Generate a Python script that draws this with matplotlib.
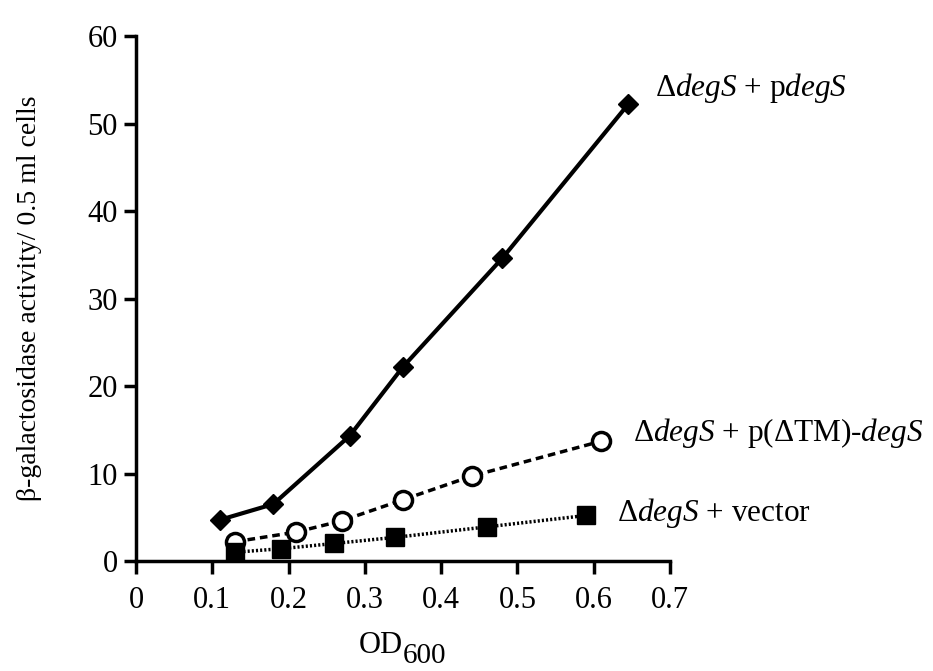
import matplotlib
matplotlib.use('Agg')
import matplotlib.pyplot as plt

plt.rcParams['font.family'] = ['Liberation Serif', 'DejaVu Serif']
plt.rcParams['mathtext.fontset'] = 'custom'
plt.rcParams['mathtext.rm'] = 'Liberation Serif'
plt.rcParams['mathtext.it'] = 'Liberation Serif:italic'

# OD600 readings and beta-galactosidase activity per strain
od_pdegs = [0.11, 0.18, 0.28, 0.35, 0.48, 0.645]
act_pdegs = [4.7, 6.5, 14.3, 22.2, 34.6, 52.2]

od_tm = [0.13, 0.21, 0.27, 0.35, 0.44, 0.61]
act_tm = [2.2, 3.3, 4.6, 7.0, 9.7, 13.7]

od_vector = [0.13, 0.19, 0.26, 0.34, 0.46, 0.59]
act_vector = [1.0, 1.4, 2.0, 2.7, 3.9, 5.2]

labels = [r'Δ$\mathit{degS}$ + p$\mathit{degS}$',
          r'Δ$\mathit{degS}$ + p(ΔTM)-$\mathit{degS}$',
          r'Δ$\mathit{degS}$ + vector']

fig = plt.figure(figsize=(9.33, 6.71), dpi=100)
ax = fig.add_axes([0.1458, 0.164, 0.5723, 0.782])

ax.plot(od_pdegs, act_pdegs, '-', color='black', lw=3,
        marker='D', ms=10, mfc='black', mec='black', clip_on=False)
ax.plot(od_tm, act_tm, color='black', lw=2.5, ls=(0, (2.2, 1.4)),
        marker='o', ms=13, mfc='white', mec='black', mew=2.5, clip_on=False)
ax.plot(od_vector, act_vector, color='black', lw=2.5, ls=(0, (0.6, 0.6)),
        marker='s', ms=13, mfc='black', mec='black', clip_on=False)

# line labels at the right end of each series
ax.text(0.680, 54.1, labels[0], fontsize=22.5, va='center', clip_on=False)
ax.text(0.651, 14.6, labels[1], fontsize=22.5, va='center', clip_on=False)
ax.text(0.630, 5.5, labels[2], fontsize=22.5, va='center', clip_on=False)

ax.set_xlim(0, 0.7)
ax.set_ylim(0, 60)
ax.set_xticks([0, 0.1, 0.2, 0.3, 0.4, 0.5, 0.6, 0.7])
ax.set_xticklabels(['0', '0.1', '0.2', '0.3', '0.4', '0.5', '0.6', '0.7'])
ax.set_yticks([0, 10, 20, 30, 40, 50, 60])

for s in ['top', 'right']:
    ax.spines[s].set_visible(False)
for s in ['left', 'bottom']:
    ax.spines[s].set_linewidth(2.5)
ax.tick_params(width=2.5, length=9, labelsize=22, direction='out')
ax.tick_params(axis='x', pad=9)
ax.tick_params(axis='y', pad=4)

ax.set_ylabel('β-galactosidase activity/ 0.5 ml cells', fontsize=20)
ax.yaxis.set_label_coords(-0.176, 0.5)

# x label: OD with a lowered, near full-size 600
fig.text(403 / 933, 1 - 653 / 671, 'OD', fontsize=22, ha='right', va='baseline')
fig.text(403 / 933, 1 - 663 / 671, '600', fontsize=21, ha='left', va='baseline')

fig.savefig('out.png', dpi=100)
